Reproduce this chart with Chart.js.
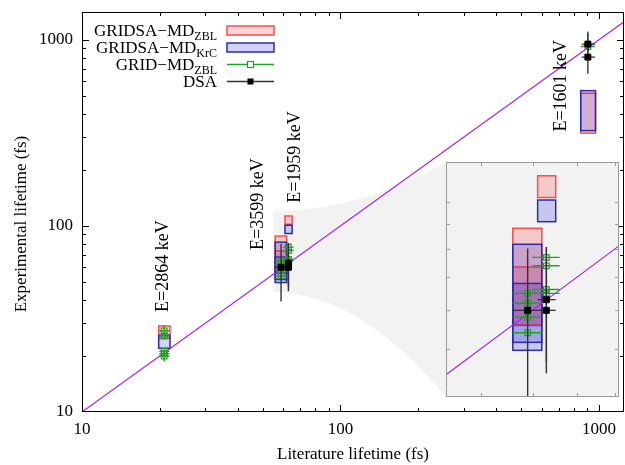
<!DOCTYPE html>
<html>
<head>
<meta charset="utf-8">
<script src="https://cdn.jsdelivr.net/npm/chart.js@4.4.1/dist/chart.umd.min.js"></script>
<style>
  html, body { margin: 0; padding: 0; background: #fff; }
  #wrap { position: relative; width: 625px; height: 465px; }
  #main { position: absolute; left: 0; top: 0; }
  #inset { position: absolute; left: 446px; top: 162px; }
</style>
</head>
<body>
<div id="wrap">
  <canvas id="main" width="625" height="465"></canvas>
  <canvas id="inset" width="173" height="235"></canvas>
</div>
<script>
const FONT = "'Liberation Serif', 'Times New Roman', serif";

/* ── data ── */
const mainTicks = [10, 100, 1000];
const insetXTicks = [50, 60, 70, 80];
const insetYTicks = [40, 50, 60, 70, 80, 90, 100];

// y = x reference line
const identityLine = [5, 2000];

// GRIDSA-MD boxes: [lit lo, lit hi, exp lo, exp hi]
const zblBoxes = [
  [19.8, 21.9, 24.9, 29.0],
  [55.9, 61.9, 55.8, 88.2],
  [55.9, 61.9, 55.8, 73.5],
  [61.0, 65.0, 102, 113],
  [850, 970, 315, 516],
];
const krcBoxes = [
  [19.8, 21.9, 22.0, 25.9],
  [55.9, 61.9, 49.6, 81.8],
  [55.9, 61.9, 51.5, 68.0],
  [61.0, 65.0, 91.0, 100.8],
  [850, 970, 325, 533],
];

// points: [lit, exp, lit lo, lit hi, exp lo, exp hi]
const gridPoints = [
  [20.8, 27.3, 19.9, 21.8, 26.3, 29.2],
  [20.8, 25.6, 19.9, 21.8, 24.7, 26.6],
  [20.8, 21.2, 19.9, 21.8, 20.5, 22.0],
  [20.8, 20.6, 19.9, 21.8, 19.9, 21.4],
  [20.8, 20.0, 19.9, 21.8, 18.7, 20.8],
  [58.9, 64.9, 55.9, 61.9, 63.9, 65.9],
  [58.9, 62.0, 55.9, 61.9, 61.1, 62.9],
  [58.9, 58.0, 55.9, 61.9, 57.2, 58.8],
  [58.9, 53.9, 55.9, 61.9, 53.1, 54.7],
  [62.9, 76.9, 59.9, 65.9, 75.0, 80.8],
  [62.9, 73.9, 59.9, 65.9, 72.6, 75.2],
  [62.9, 66.1, 59.9, 65.9, 65.0, 67.2],
  [62.9, 64.9, 59.9, 65.9, 63.8, 66.0],
  [906, 920, 850, 965, 880, 1108],
];
const dsaPoints = [
  [58.9, 59.9, 55.9, 61.9, 39.2, 80.2],
  [62.9, 63.0, 61.0, 65.0, 47.0, 80.8],
  [62.9, 59.9, 61.0, 65.0, 44.5, 75.0],
  [906, 948, 858, 965, 850, 1090],
  [906, 807, 858, 965, 656, 930],
];

const levelLabels = ['E=2864 keV', 'E=3599 keV', 'E=1959 keV', 'E=1601 keV'];
const levelLabelAt = [[20.6, 34.5], [48, 74.3], [66.7, 133], [713, 321]];

const legendNames = ['GRIDSA\u2212MD', 'GRIDSA\u2212MD', 'GRID\u2212MD', 'DSA'];
const legendSubs = ['ZBL', 'KrC', 'ZBL', ''];

// lit / exp region that the inset blows up
const coneFrom = [55, 44, 120];

/* ── styles ── */
const ZBL = { fill: 'rgba(255,0,0,0.17)', stroke: '#ff4b4b' };
const KRC = { fill: 'rgba(0,0,220,0.18)', stroke: '#2c2ca6' };
const GREEN = '#22a022';
const DSA_LINE = '#333';
const PURPLE = '#a020f0';

/* ── plugins ── */
function clipTo(ctx, a) {
  ctx.beginPath();
  ctx.rect(a.left, a.top, a.right - a.left, a.bottom - a.top);
  ctx.clip();
}

const boxPlugin = {
  id: 'boxes',
  beforeDatasetsDraw(chart) {
    const { ctx, chartArea, scales: { x, y } } = chart;
    ctx.save();
    clipTo(ctx, chartArea);
    ctx.lineWidth = 1.5;
    [[zblBoxes, ZBL], [krcBoxes, KRC]].forEach(([boxes, st]) => {
      ctx.fillStyle = st.fill;
      ctx.strokeStyle = st.stroke;
      boxes.forEach(([x0, x1, y0, y1]) => {
        const l = x.getPixelForValue(x0), r = x.getPixelForValue(x1);
        const t = y.getPixelForValue(y1), b = y.getPixelForValue(y0);
        ctx.fillRect(l, t, r - l, b - t);
        ctx.strokeRect(l, t, r - l, b - t);
      });
    });
    ctx.restore();
  },
};

// error bars under each point dataset
const errorBarPlugin = {
  id: 'errorBars',
  beforeDatasetDraw(chart, args) {
    const ds = chart.data.datasets[args.index];
    if (!ds._err) return;
    const { ctx, chartArea, scales: { x, y } } = chart;
    ctx.save();
    clipTo(ctx, chartArea);
    ctx.strokeStyle = ds._errColor;
    ctx.lineWidth = 1.4;
    ds._err.forEach(([px, py, xl, xh, yl, yh]) => {
      const cx = x.getPixelForValue(px), cy = y.getPixelForValue(py);
      ctx.beginPath();
      ctx.moveTo(x.getPixelForValue(xl), cy);
      ctx.lineTo(x.getPixelForValue(xh), cy);
      ctx.moveTo(cx, y.getPixelForValue(yl));
      ctx.lineTo(cx, y.getPixelForValue(yh));
      ctx.stroke();
    });
    ctx.restore();
  },
};

function framePlugin(cfg) {
  return {
    id: 'frame',
    afterDatasetsDraw(chart) {
      const { ctx, chartArea: a, scales: { x, y } } = chart;
      ctx.save();
      ctx.strokeStyle = cfg.color;
      ctx.lineWidth = 1;
      ctx.beginPath();
      const tx = (v, len) => {
        const p = Math.round(x.getPixelForValue(v)) + 0.5;
        if (p < a.left || p > a.right) return;
        ctx.moveTo(p, a.bottom); ctx.lineTo(p, a.bottom - len);
        ctx.moveTo(p, a.top); ctx.lineTo(p, a.top + len);
      };
      const ty = (v, len) => {
        const p = Math.round(y.getPixelForValue(v)) + 0.5;
        if (p < a.top || p > a.bottom) return;
        ctx.moveTo(a.left, p); ctx.lineTo(a.left + len, p);
        ctx.moveTo(a.right, p); ctx.lineTo(a.right - len, p);
      };
      cfg.xMajor.forEach(v => tx(v, cfg.majorLen));
      cfg.yMajor.forEach(v => ty(v, cfg.majorLen));
      if (cfg.minor) {
        cfg.xMajor.forEach(d => { for (let k = 2; k < 10; k++) tx(d * k, cfg.minorLen); });
        cfg.yMajor.forEach(d => { for (let k = 2; k < 10; k++) ty(d * k, cfg.minorLen); });
      }
      ctx.stroke();
      ctx.strokeRect(Math.round(a.left) + 0.5, Math.round(a.top) + 0.5,
        Math.round(a.right - a.left) - 1, Math.round(a.bottom - a.top) - 1);
      ctx.restore();
    },
  };
}

function pointDatasets() {
  return [
    {
      type: 'scatter',
      label: 'DSA',
      data: dsaPoints.map(p => ({ x: p[0], y: p[1] })),
      pointStyle: 'rect',
      pointRadius: 4.2,
      backgroundColor: '#000',
      borderColor: '#000',
      borderWidth: 1,
      _err: dsaPoints,
      _errColor: DSA_LINE,
    },
    {
      type: 'scatter',
      label: 'GRID-MD ZBL',
      data: gridPoints.map(p => ({ x: p[0], y: p[1] })),
      pointStyle: 'rect',
      pointRadius: 4,
      backgroundColor: 'rgba(0,0,0,0)',
      borderColor: GREEN,
      borderWidth: 1.2,
      _err: gridPoints,
      _errColor: GREEN,
    },
    {
      type: 'line',
      label: 'y=x',
      data: identityLine.map(v => ({ x: v, y: v })),
      borderColor: PURPLE,
      borderWidth: 1.1,
      pointRadius: 0,
      fill: false,
    },
  ];
}

/* ── inset ── */
const insetChart = new Chart(document.getElementById('inset'), {
  type: 'scatter',
  data: { datasets: pointDatasets() },
  options: {
    responsive: false,
    animation: false,
    devicePixelRatio: 1,
    layout: { padding: 0, autoPadding: false },
    plugins: { legend: { display: false }, tooltip: { enabled: false } },
    scales: {
      x: { type: 'logarithmic', min: 44.2, max: 81.2, display: false },
      y: { type: 'logarithmic', min: 39.8, max: 120.6, display: false },
    },
  },
  plugins: [
    {
      id: 'insetBg',
      beforeDraw(chart) {
        const { ctx, chartArea: a } = chart;
        ctx.save();
        ctx.fillStyle = '#f2f2f2';
        ctx.fillRect(a.left, a.top, a.right - a.left, a.bottom - a.top);
        ctx.restore();
      },
    },
    boxPlugin,
    errorBarPlugin,
    framePlugin({ color: '#9a9a9a', xMajor: insetXTicks, yMajor: insetYTicks, majorLen: 4, minor: false }),
  ],
});

/* ── main ── */
const conePlugin = {
  id: 'cone',
  beforeDatasetsDraw(chart) {
    const { ctx, scales: { x, y } } = chart;
    const c = insetChart.canvas, ia = insetChart.chartArea;
    const ex = c.offsetLeft + ia.left;
    const eyT = c.offsetTop + ia.top, eyB = c.offsetTop + ia.bottom;
    const sx = x.getPixelForValue(coneFrom[0]);
    const syT = y.getPixelForValue(coneFrom[2]), syB = y.getPixelForValue(coneFrom[1]);
    const dx = ex - sx;
    ctx.save();
    ctx.fillStyle = '#f2f2f2';
    ctx.beginPath();
    ctx.moveTo(sx, syT);
    ctx.bezierCurveTo(sx + 0.4 * dx, syT, sx + 0.75 * dx, syT + 0.5 * (eyT - syT), ex, eyT);
    ctx.lineTo(ex, eyB);
    ctx.bezierCurveTo(sx + 0.75 * dx, syB + 0.5 * (eyB - syB), sx + 0.4 * dx, syB, sx, syB);
    ctx.closePath();
    ctx.fill();
    ctx.restore();
  },
};

const notesPlugin = {
  id: 'notes',
  afterDraw(chart) {
    const { ctx, chartArea: a, scales: { x, y } } = chart;
    ctx.save();
    ctx.fillStyle = '#000';

    // y axis title (sits a little below the plot centre)
    ctx.font = `17px ${FONT}`;
    ctx.textAlign = 'center';
    ctx.textBaseline = 'middle';
    ctx.save();
    ctx.translate(22, (a.top + a.bottom) / 2 + 12);
    ctx.rotate(-Math.PI / 2);
    ctx.fillText('Experimental lifetime (fs)', 0, 0);
    ctx.restore();

    // level labels, rotated
    ctx.font = `18px ${FONT}`;
    ctx.textAlign = 'left';
    ctx.textBaseline = 'middle';
    levelLabels.forEach((t, i) => {
      ctx.save();
      ctx.translate(x.getPixelForValue(levelLabelAt[i][0]), y.getPixelForValue(levelLabelAt[i][1]));
      ctx.rotate(-Math.PI / 2);
      ctx.fillText(t, 0, 0);
      ctx.restore();
    });

    // legend
    const right = 217, symL = 227, symR = 274;
    legendNames.forEach((name, i) => {
      const base = 35.5 + 17 * i;
      const mid = base - 5;
      ctx.font = `12px ${FONT}`;
      const subW = legendSubs[i] ? ctx.measureText(legendSubs[i]).width : 0;
      ctx.textBaseline = 'alphabetic';
      ctx.textAlign = 'left';
      if (subW) ctx.fillText(legendSubs[i], right - subW, base + 4);
      ctx.font = `17px ${FONT}`;
      ctx.textAlign = 'right';
      ctx.fillText(name, right - subW, base);

      if (i < 2) {
        const st = i === 0 ? ZBL : KRC;
        ctx.fillStyle = st.fill;
        ctx.strokeStyle = st.stroke;
        ctx.lineWidth = 1.5;
        ctx.fillRect(symL, mid - 4.5, symR - symL, 9);
        ctx.strokeRect(symL, mid - 4.5, symR - symL, 9);
        ctx.fillStyle = '#000';
      } else {
        const col = i === 2 ? GREEN : DSA_LINE;
        const cx = (symL + symR) / 2;
        ctx.strokeStyle = col;
        ctx.lineWidth = 1.4;
        ctx.beginPath();
        ctx.moveTo(symL, mid); ctx.lineTo(symR, mid);
        ctx.stroke();
        if (i === 2) {
          ctx.fillStyle = '#fff';
          ctx.fillRect(cx - 3, mid - 3, 6, 6);
          ctx.lineWidth = 1.2;
          ctx.strokeRect(cx - 3, mid - 3, 6, 6);
        } else {
          ctx.fillStyle = '#000';
          ctx.fillRect(cx - 3, mid - 3, 6, 6);
        }
        ctx.fillStyle = '#000';
      }
    });
    ctx.restore();
  },
};

new Chart(document.getElementById('main'), {
  type: 'scatter',
  data: { datasets: pointDatasets() },
  options: {
    responsive: false,
    animation: false,
    devicePixelRatio: 1,
    layout: { padding: { top: 12, right: 1, left: 0, bottom: 0 }, autoPadding: false },
    plugins: { legend: { display: false }, tooltip: { enabled: false } },
    scales: {
      x: {
        type: 'logarithmic',
        min: 10,
        max: 1250,
        afterBuildTicks: s => { s.ticks = mainTicks.map(v => ({ value: v })); },
        afterFit: s => { s.height = 53; s.paddingLeft = 0; s.paddingRight = 0; },
        grid: { display: false, drawTicks: false },
        border: { display: false },
        ticks: {
          color: '#000', padding: 7, maxRotation: 0, autoSkip: false,
          font: { family: FONT, size: 17 },
          callback: v => String(v),
        },
        title: {
          display: true, text: 'Literature lifetime (fs)', color: '#000',
          font: { family: FONT, size: 17 }, padding: { top: 0, bottom: 0 },
        },
      },
      y: {
        type: 'logarithmic',
        min: 10,
        max: 1410,
        afterBuildTicks: s => { s.ticks = mainTicks.map(v => ({ value: v })); },
        afterFit: s => { s.width = 82; s.paddingTop = 0; s.paddingBottom = 0; },
        grid: { display: false, drawTicks: false },
        border: { display: false },
        ticks: {
          color: '#000', padding: 9, autoSkip: false,
          font: { family: FONT, size: 17 },
          callback: v => String(v),
        },
      },
    },
  },
  plugins: [
    conePlugin,
    boxPlugin,
    errorBarPlugin,
    framePlugin({ color: '#000', xMajor: mainTicks, yMajor: mainTicks, majorLen: 7, minorLen: 4, minor: true }),
    notesPlugin,
  ],
});
</script>
</body>
</html>
